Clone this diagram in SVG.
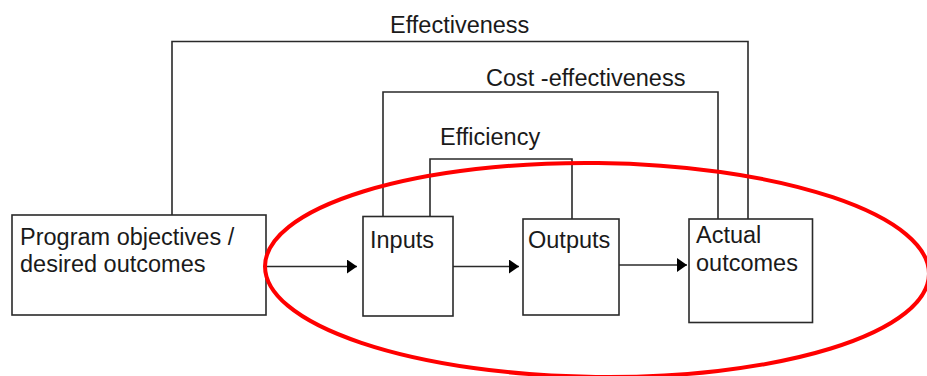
<svg xmlns="http://www.w3.org/2000/svg" width="927" height="376" viewBox="0 0 927 376">
<style>
.box{fill:#fff;stroke:#2a2a2a;stroke-width:1.6}
.ln{fill:none;stroke:#2a2a2a;stroke-width:1.6}
.t{font-family:"Liberation Sans",Arial,sans-serif;font-size:23.5px;fill:#1a1a1a}
.oval{fill:none;stroke:#f00;stroke-width:4}
</style>
<defs>
<marker id="ah" markerUnits="userSpaceOnUse" markerWidth="12" markerHeight="16" refX="10" refY="7" orient="auto">
<path d="M0,0 L10,7 L0,14 Z" fill="#000"/>
</marker>
</defs>
<rect width="927" height="376" fill="#fff"/>
<g id="connectors">
<polyline class="ln" points="172,215 172,41.5 748,41.5 748,219"/>
<polyline class="ln" points="383,216.5 383,92 718,92 718,219"/>
<polyline class="ln" points="430,216.5 430,159 572,159 572,219"/>
<line class="ln" x1="266" y1="266.5" x2="357" y2="266.5" marker-end="url(#ah)"/>
<line class="ln" x1="453" y1="266.5" x2="519" y2="266.5" marker-end="url(#ah)"/>
<line class="ln" x1="619" y1="265" x2="687" y2="265" marker-end="url(#ah)"/>
<text class="t" x="390" y="33">Effectiveness</text>
<text class="t" x="486" y="86">Cost -effectiveness</text>
<text class="t" x="440" y="145">Efficiency</text>
</g>
<g id="program">
<rect class="box" x="12" y="215" width="254" height="100"/>
<text class="t" x="20" y="245">Program objectives /</text>
<text class="t" x="20" y="272">desired outcomes</text>
</g>
<g id="inputs">
<rect class="box" x="363" y="216.5" width="90" height="99.5"/>
<text class="t" x="370" y="248">Inputs</text>
</g>
<g id="outputs">
<rect class="box" x="523" y="219" width="96" height="96"/>
<text class="t" x="528" y="248">Outputs</text>
</g>
<g id="actual">
<rect class="box" x="689" y="219" width="123.5" height="103.5"/>
<text class="t" x="696" y="243">Actual</text>
<text class="t" x="696" y="271">outcomes</text>
</g>
<g id="highlight">
<ellipse class="oval" cx="597" cy="270" rx="332" ry="107" transform="rotate(0.7 597 270)"/>
</g>
</svg>
